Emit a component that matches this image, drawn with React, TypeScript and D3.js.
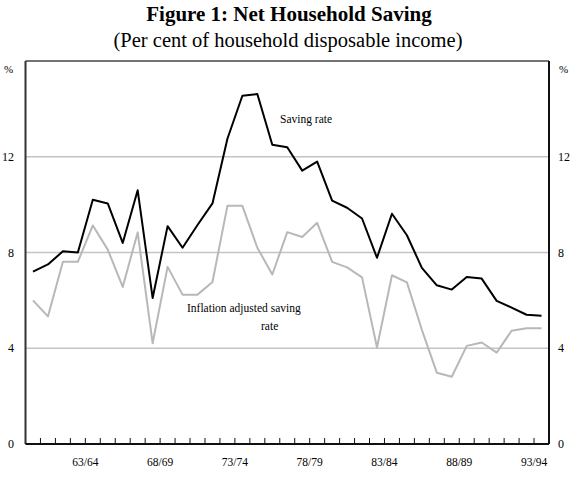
import React from 'react';
import * as d3 from 'd3';

const width = 571;
const height = 481;
const plot = { left: 25.5, right: 549, top: 61, bottom: 444 };

// financial years 1959/60 .. 1993/94
const years = d3.range(1959, 1994).map(y => `${String(y % 100).padStart(2, '0')}/${String((y + 1) % 100).padStart(2, '0')}`);
const yearLabels = ['63/64', '68/69', '73/74', '78/79', '83/84', '88/89', '93/94'];

const savingRate = [
  7.2, 7.5, 8.05, 8.0, 10.2, 10.05, 8.4, 10.6, 6.1, 9.1,
  8.2, 9.15, 10.05, 12.75, 14.55, 14.62, 12.5, 12.4, 11.42, 11.8,
  10.17, 9.87, 9.42, 7.78, 9.62, 8.72, 7.36, 6.63, 6.45, 6.98,
  6.91, 5.98, 5.7, 5.4, 5.36,
];
const inflationAdjusted = [
  6.0, 5.33, 7.61, 7.61, 9.13, 8.12, 6.56, 8.84, 4.21, 7.4,
  6.24, 6.24, 6.77, 9.95, 9.95, 8.2, 7.08, 8.85, 8.65, 9.24,
  7.61, 7.38, 6.96, 4.03, 7.05, 6.75, 4.77, 2.98, 2.81, 4.1,
  4.24, 3.82, 4.73, 4.84, 4.84,
];
const yTicks = [0, 4, 8, 12];
const gridTicks = [4, 8, 12];

const font = "'Liberation Serif', 'Times New Roman', serif";

export default function App() {
  const x = d3.scaleBand<string>().domain(years).range([plot.left, plot.right]);
  const y = d3.scaleLinear().domain([0, 16]).range([plot.bottom, plot.top]);
  const cx = (i: number) => (x(years[i]) as number) + x.bandwidth() / 2;

  const line = d3.line<number>().x((_, i) => cx(i)).y(d => y(d));

  return (
    <svg width={width} height={height} style={{ position: 'absolute', left: 0, top: 0, background: '#fff', fontFamily: font }}>
      <text x={289} y={21} textAnchor="middle" fontSize={21} fontWeight="bold">Figure 1: Net Household Saving</text>
      <text x={288} y={47} textAnchor="middle" fontSize={20.5}>(Per cent of household disposable income)</text>

      {gridTicks.map(t => (
        <line key={t} x1={plot.left} x2={plot.right} y1={y(t)} y2={y(t)} stroke="#c4c4c4" strokeWidth={1.3} />
      ))}

      <line x1={plot.left} x2={plot.right} y1={plot.top} y2={plot.top} stroke="#444" strokeWidth={1.3} />
      <line x1={plot.left} x2={plot.left} y1={plot.top} y2={plot.bottom} stroke="#333" strokeWidth={2} />
      <line x1={plot.right} x2={plot.right} y1={plot.top} y2={plot.bottom} stroke="#111" strokeWidth={2} />
      <line x1={plot.left} x2={plot.right} y1={plot.bottom} y2={plot.bottom} stroke="#111" strokeWidth={2} />

      {years.slice(1).map(yr => (
        <line key={yr} x1={x(yr)} x2={x(yr)} y1={plot.bottom} y2={plot.bottom - 6} stroke="#111" strokeWidth={1} />
      ))}

      {yTicks.map(t => (
        <g key={t} fontSize={12}>
          <text x={14} y={y(t) + 4} textAnchor="end">{t}</text>
          <text x={558} y={y(t) + 4} textAnchor="start">{t}</text>
        </g>
      ))}
      <text x={4} y={73} fontSize={11}>%</text>
      <text x={559} y={73} fontSize={11}>%</text>

      {yearLabels.map(l => (
        <text key={l} x={x(l) as number} y={466} textAnchor="middle" fontSize={11.5}>{l}</text>
      ))}

      <path d={line(inflationAdjusted) ?? ''} fill="none" stroke="#b8b8b8" strokeWidth={2} strokeLinejoin="round" />
      <path d={line(savingRate) ?? ''} fill="none" stroke="#000" strokeWidth={2} strokeLinejoin="round" />

      <text x={280} y={123} fontSize={11.5}>Saving rate</text>
      <text x={187} y={312} fontSize={11.5}>Inflation adjusted saving</text>
      <text x={261} y={330} fontSize={11.5}>rate</text>
    </svg>
  );
}
